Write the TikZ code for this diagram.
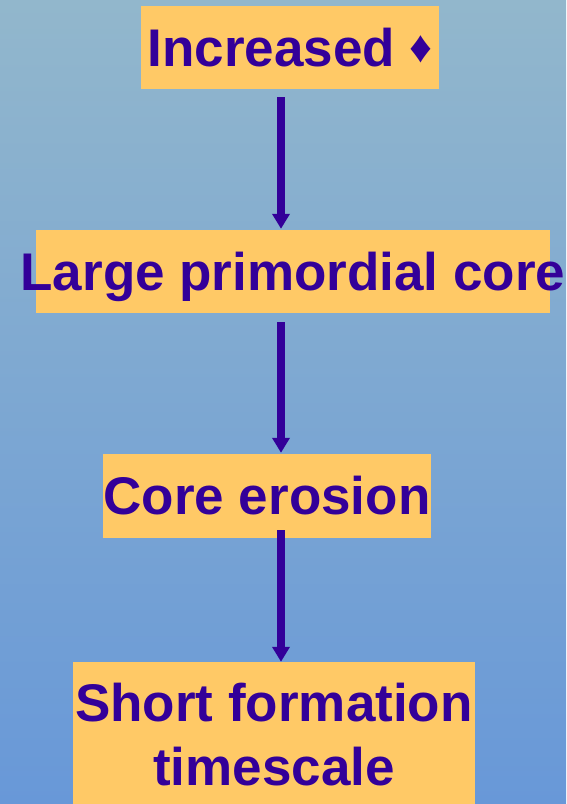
\documentclass[tikz,border=0pt]{standalone}
\usepackage{fontspec}
\setmainfont{Liberation Sans}
\usepackage{tikz}
\usetikzlibrary{arrows.meta}
\definecolor{skytop}{RGB}{146,183,204}
\definecolor{skybottom}{RGB}{104,152,216}
\definecolor{sand}{RGB}{255,201,102}
\definecolor{indigo}{RGB}{51,0,153}
\tikzset{
  box/.style={fill=sand, inner sep=0pt, text=indigo, align=center,
              font=\fontsize{53}{64}\selectfont\bfseries},
  oneline/.style={text height=38pt, text depth=0pt},
  flow/.style={draw=indigo, line width=8pt, -{Triangle[width=17pt,length=15pt]}}
}

\begin{document}
\begin{tikzpicture}[x=1pt, y=1pt]
  \useasboundingbox (0,0) rectangle (566,804);
  \shade[top color=skytop, bottom color=skybottom] (0,0) rectangle (566,804);
  \coordinate (axis) at (281,0);
  % boxes
  \node[box, oneline, minimum width=298pt, minimum height=83pt]  (increased) at (290, 756.5)
       {Increased \raisebox{4pt}{\fontsize{45}{45}\selectfont ♦}};
  \node[box, oneline, minimum width=514pt, minimum height=83pt]  (large)     at (293, 532.5)
       {\makebox[0pt]{Large primordial core}};
  \node[box, oneline, minimum width=328pt, minimum height=84pt]  (erosion)   at (267, 308)
       {Core erosion};
  \node[box,          minimum width=402pt, minimum height=146pt] (timescale) at (274, 69)
       {Short formation\\timescale};
  % arrows
  \draw[flow, shorten <=8pt, shorten >=1pt] (increased.south -| axis) -- (large.north -| axis);
  \draw[flow, shorten <=9pt, shorten >=1pt] (large.south -| axis)     -- (erosion.north -| axis);
  \draw[flow, shorten <=-8pt]               (erosion.south -| axis)   -- (timescale.north -| axis);
\end{tikzpicture}
\end{document}
